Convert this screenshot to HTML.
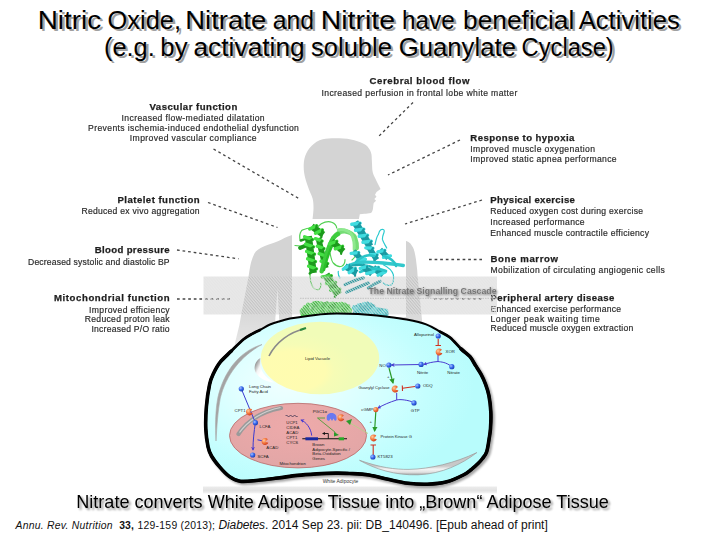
<!DOCTYPE html>
<html><head><meta charset="utf-8">
<style>
html,body{margin:0;padding:0;background:#fff;width:720px;height:540px;overflow:hidden}
svg{display:block}
text{font-family:"Liberation Sans",sans-serif}
.h{font-weight:bold;fill:#1e1e1e;font-size:9.6px;stroke:#1e1e1e;stroke-width:0.25px}
.t{fill:#2a2a2a;font-size:8.6px;stroke:#2a2a2a;stroke-width:0.18px}
.dl{stroke:#444;stroke-width:1.3;stroke-dasharray:2.7 2.9;fill:none}
.s{font-size:4.3px;fill:#1e1e1e}
.bl{fill:url(#ballb)}
.or{fill:url(#ballo)}
</style></head>
<body>
<svg width="720" height="540" viewBox="0 0 720 540">
<defs>
<radialGradient id="cellg" gradientUnits="userSpaceOnUse" cx="300" cy="385" r="175" fx="285" fy="380" gradientTransform="translate(300,385) scale(1,0.62) translate(-300,-385)">
<stop offset="0" stop-color="#f0ffff"/><stop offset="0.3" stop-color="#e2ffff"/><stop offset="0.55" stop-color="#d2ffff"/><stop offset="0.75" stop-color="#c4fefe"/><stop offset="1" stop-color="#b8fcfc"/>
</radialGradient>
<radialGradient id="vacg" cx="0.28" cy="0.66" r="0.5" fx="0.26" fy="0.7">
<stop offset="0" stop-color="#fffcb0"/><stop offset="0.55" stop-color="#fefcb1"/><stop offset="0.7" stop-color="#f6fcb6"/><stop offset="1" stop-color="#f1fcb8"/>
</radialGradient>
<radialGradient id="mitog" cx="0.5" cy="0.35" r="0.65">
<stop offset="0" stop-color="#eeaaaa"/><stop offset="1" stop-color="#e2a6a6"/>
</radialGradient>
<radialGradient id="ballb" cx="0.35" cy="0.35" r="0.7">
<stop offset="0" stop-color="#aac4ff"/><stop offset="0.5" stop-color="#3a6cf0"/><stop offset="1" stop-color="#1a3cb0"/>
</radialGradient>
<radialGradient id="ballo" cx="0.35" cy="0.35" r="0.7">
<stop offset="0" stop-color="#ffd0a0"/><stop offset="0.5" stop-color="#f57a40"/><stop offset="1" stop-color="#d04020"/>
</radialGradient>
<pattern id="hatch" width="2.2" height="2.2" patternUnits="userSpaceOnUse" patternTransform="rotate(-40)">
<rect x="0" width="1.2" height="2.2" fill="#dfdfdf" fill-opacity="0.74"/><rect x="1.2" width="1" height="2.2" fill="#7b7b7b" fill-opacity="0.2"/>
</pattern>
<filter id="cshadow" x="-5%" y="-5%" width="112%" height="115%"><feGaussianBlur in="SourceAlpha" stdDeviation="1.2"/><feOffset dx="1.5" dy="1.5"/><feComponentTransfer><feFuncA type="linear" slope="0.35"/></feComponentTransfer><feMerge><feMergeNode/><feMergeNode in="SourceGraphic"/></feMerge></filter>
<linearGradient id="stripg" x1="0" y1="0" x2="0" y2="1"><stop offset="0" stop-color="#ececec"/><stop offset="0.6" stop-color="#e2e2e2"/><stop offset="1" stop-color="#f6f6f6"/></linearGradient>
<linearGradient id="wcres" gradientUnits="userSpaceOnUse" x1="254" y1="366" x2="262" y2="370"><stop offset="0" stop-color="#909090"/><stop offset="0.6" stop-color="#f4f4f4"/><stop offset="1" stop-color="#fff"/></linearGradient>
<linearGradient id="bcres" gradientUnits="userSpaceOnUse" x1="0" y1="466" x2="0" y2="475"><stop offset="0" stop-color="#c8c8c8"/><stop offset="0.35" stop-color="#f4f4f4"/><stop offset="0.7" stop-color="#e0e0e0"/><stop offset="1" stop-color="#9a9a9a"/></linearGradient>
<linearGradient id="fadeg" x1="0" y1="0" x2="0" y2="1"><stop offset="0" stop-color="#fff" stop-opacity="0.12"/><stop offset="1" stop-color="#fff" stop-opacity="0.5"/></linearGradient>
<filter id="blur1"><feGaussianBlur stdDeviation="0.5"/></filter>
<filter id="blur2"><feGaussianBlur stdDeviation="0.35"/></filter>
<filter id="tshadow" x="-5%" y="-20%" width="110%" height="160%"><feGaussianBlur in="SourceAlpha" stdDeviation="1"/><feOffset dx="1.5" dy="1.5"/><feComponentTransfer><feFuncA type="linear" slope="0.45"/></feComponentTransfer><feMerge><feMergeNode/><feMergeNode in="SourceGraphic"/></feMerge></filter>
<filter id="bshadow" x="-5%" y="-20%" width="110%" height="160%"><feGaussianBlur in="SourceAlpha" stdDeviation="0.8"/><feOffset dx="1.2" dy="1.2"/><feComponentTransfer><feFuncA type="linear" slope="0.5"/></feComponentTransfer><feMerge><feMergeNode/><feMergeNode in="SourceGraphic"/></feMerge></filter>
<marker id="ab" viewBox="0 0 10 10" refX="8" refY="5" markerWidth="4" markerHeight="4" orient="auto"><path d="M0,0 L10,5 L0,10 L3,5 Z" fill="#4a3ad0"/></marker>
<marker id="ag" viewBox="0 0 10 10" refX="8" refY="5" markerWidth="4.5" markerHeight="4.5" orient="auto"><path d="M0,0 L10,5 L0,10 Z" fill="#2a9a2a"/></marker>
</defs>

<!-- Title -->
<g font-size="25.2px">
<text x="40.11" y="30.5" fill="#a0a0a0" textLength="63.52" lengthAdjust="spacingAndGlyphs">Nitric</text>
<text x="109.95" y="30.5" fill="#a0a0a0" textLength="73.49" lengthAdjust="spacingAndGlyphs">Oxide,</text>
<text x="187.64" y="30.5" fill="#a0a0a0" textLength="80.98" lengthAdjust="spacingAndGlyphs">Nitrate</text>
<text x="275.10" y="30.5" fill="#a0a0a0" textLength="41.40" lengthAdjust="spacingAndGlyphs">and</text>
<text x="323.06" y="30.5" fill="#a0a0a0" textLength="74.35" lengthAdjust="spacingAndGlyphs">Nitrite</text>
<text x="404.46" y="30.5" fill="#a0a0a0" textLength="52.77" lengthAdjust="spacingAndGlyphs">have</text>
<text x="465.50" y="30.5" fill="#a0a0a0" textLength="111.16" lengthAdjust="spacingAndGlyphs">beneficial</text>
<text x="581.15" y="30.5" fill="#a0a0a0" textLength="100.97" lengthAdjust="spacingAndGlyphs">Activities</text>
<text x="106.32" y="58.1" fill="#a0a0a0" textLength="50.90" lengthAdjust="spacingAndGlyphs">(e.g.</text>
<text x="162.74" y="58.1" fill="#a0a0a0" textLength="27.21" lengthAdjust="spacingAndGlyphs">by</text>
<text x="195.88" y="58.1" fill="#a0a0a0" textLength="111.32" lengthAdjust="spacingAndGlyphs">activating</text>
<text x="313.39" y="58.1" fill="#a0a0a0" textLength="80.95" lengthAdjust="spacingAndGlyphs">soluble</text>
<text x="401.11" y="58.1" fill="#a0a0a0" textLength="117.24" lengthAdjust="spacingAndGlyphs">Guanylate</text>
<text x="524.00" y="58.1" fill="#a0a0a0" textLength="92.17" lengthAdjust="spacingAndGlyphs">Cyclase)</text>
<text x="37.71" y="28.8" fill="#000" textLength="63.52" lengthAdjust="spacingAndGlyphs">Nitric</text>
<text x="107.55" y="28.8" fill="#000" textLength="73.49" lengthAdjust="spacingAndGlyphs">Oxide,</text>
<text x="185.24" y="28.8" fill="#000" textLength="80.98" lengthAdjust="spacingAndGlyphs">Nitrate</text>
<text x="272.70" y="28.8" fill="#000" textLength="41.40" lengthAdjust="spacingAndGlyphs">and</text>
<text x="320.66" y="28.8" fill="#000" textLength="74.35" lengthAdjust="spacingAndGlyphs">Nitrite</text>
<text x="402.06" y="28.8" fill="#000" textLength="52.77" lengthAdjust="spacingAndGlyphs">have</text>
<text x="463.10" y="28.8" fill="#000" textLength="111.16" lengthAdjust="spacingAndGlyphs">beneficial</text>
<text x="578.75" y="28.8" fill="#000" textLength="100.97" lengthAdjust="spacingAndGlyphs">Activities</text>
<text x="103.92" y="56.4" fill="#000" textLength="50.90" lengthAdjust="spacingAndGlyphs">(e.g.</text>
<text x="160.34" y="56.4" fill="#000" textLength="27.21" lengthAdjust="spacingAndGlyphs">by</text>
<text x="193.48" y="56.4" fill="#000" textLength="111.32" lengthAdjust="spacingAndGlyphs">activating</text>
<text x="310.99" y="56.4" fill="#000" textLength="80.95" lengthAdjust="spacingAndGlyphs">soluble</text>
<text x="398.71" y="56.4" fill="#000" textLength="117.24" lengthAdjust="spacingAndGlyphs">Guanylate</text>
<text x="521.60" y="56.4" fill="#000" textLength="92.17" lengthAdjust="spacingAndGlyphs">Cyclase)</text>
</g>

<!-- silhouette -->
<path fill="#d4d4d4" d="M312.6,219.0 C312.8,217.1 313.5,211.2 313.5,207.8 C313.5,204.4 313.4,201.6 312.6,198.5 C311.8,195.4 310.1,192.7 308.9,189.3 C307.7,185.9 306.1,181.8 305.2,178.1 C304.3,174.4 303.7,170.7 303.7,167.0 C303.7,163.3 303.9,159.5 305.2,155.9 C306.5,152.3 308.8,148.5 311.7,145.7 C314.6,142.9 318.2,140.5 322.8,139.3 C327.4,138.1 334.1,138.2 339.4,138.3 C344.6,138.5 350.0,139.1 354.3,140.2 C358.6,141.3 362.6,142.8 365.4,144.8 C368.2,146.8 369.8,149.4 370.9,152.2 C372.0,155.0 371.6,158.1 371.9,161.5 C372.2,164.9 372.0,169.4 372.8,172.6 C373.6,175.8 375.2,178.2 376.5,180.9 C377.8,183.6 379.9,187.6 380.6,188.9 L376.5,192 L375,194.8 L376.5,196.7 L374.3,198.9 L376.1,200.7 L373.7,203.1 C373.2,205.5 373.2,208 372.8,209.6 C372.3,211.5 371.8,212.6 370.9,213 C368.5,213.6 366.5,213.6 364.4,213.7 L359.8,214.3 L358.9,219 L358.9,224 L406.3,241 C407.9,241.6 409.2,242.4 410.4,243.6 C412.3,246.4 413.8,248.4 414.5,251.7 C415.5,255.8 416.1,259.8 416.5,264 C417.1,268 417.4,272 417.6,276.2 L420,300 L423,330 L423,345 L234,349 L235.5,341 L239.4,325 L241.7,312 L248.6,276.2 C249.1,272.7 249.6,269.2 250.3,265.8 C250.9,263.1 251.5,260.5 252.5,258 C253.4,255.7 254.4,253.4 255.8,251.6 C257.3,250 259,248.7 261,247.7 C263.5,246.4 266.1,245.4 268.8,244.4 C271.8,243.3 274.9,242.4 277.9,241.2 C280.1,240.3 282.2,239 284.4,237.9 C286.7,236.9 289,236 291.5,235.3 L312.6,225 Z"/>
<path d="M277.5,288 L273.5,345 L280.5,345 Z" fill="#fff"/>

<!-- white protein panel -->
<rect x="292" y="219" width="114" height="98" fill="#fff"/>

<!-- protein -->
<g id="prot" stroke-linecap="round" stroke-linejoin="round" fill="none" filter="url(#blur2)">
<path d="M295,245.5 L303.3,246.3 M300,239.7 C299,234 301,230 303.3,229.7 C306,228.5 308,228 310,228 M318.3,226.3 C322,222 328,221 331.7,222.2 C335,223.5 336.5,226 336.7,228 M330,253 C331,258 332,262 333.3,263 C336,266 339.5,267 341.7,266.3 C344,265 345,262 345,259.7 M310,273 C310,278 310.5,282 311.7,284.7 C313,288 316,290 318.3,289.7 C320.5,289 321,286 320.8,283 M356.5,248 C357,253 355,258 352,260" stroke="#52d052" stroke-width="1.2" fill="none" stroke-linecap="round" stroke-linejoin="round"/>
<path d="M300,248 C303,246.5 306.5,245.5 310,244.7" stroke="#1c9a1c" stroke-width="3.8" fill="none" stroke-linecap="round" stroke-linejoin="round"/>
<path d="M300.8,240.5 C303,239.5 306,239 308.3,238.8" stroke="#1c9a1c" stroke-width="2.6" fill="none" stroke-linecap="round" stroke-linejoin="round"/>
<path d="M311.7,226.3 L323.3,234.7" stroke="#1c9a1c" stroke-width="6.4" stroke-linecap="butt"/>
<path d="M309.7,229.0 L316.6,225.7" stroke="#44e044" stroke-width="3.4" stroke-linecap="round"/>
<path d="M316.6,225.7 L315.5,233.2" stroke="#1c9a1c" stroke-width="2.2" stroke-linecap="round"/>
<path d="M315.5,233.2 L322.4,229.9" stroke="#44e044" stroke-width="3.4" stroke-linecap="round"/>
<path d="M322.4,229.9 L321.3,237.4" stroke="#1c9a1c" stroke-width="2.2" stroke-linecap="round"/>
<path d="M308.3,236.3 L313.3,273.0" stroke="#1c9a1c" stroke-width="7.2" stroke-linecap="butt"/>
<path d="M304.6,236.8 L312.5,239.5" stroke="#44e044" stroke-width="3.4" stroke-linecap="round"/>
<path d="M312.5,239.5 L305.6,244.2" stroke="#1c9a1c" stroke-width="2.2" stroke-linecap="round"/>
<path d="M305.6,244.2 L313.5,246.8" stroke="#44e044" stroke-width="3.4" stroke-linecap="round"/>
<path d="M313.5,246.8 L306.6,251.5" stroke="#1c9a1c" stroke-width="2.2" stroke-linecap="round"/>
<path d="M306.6,251.5 L314.5,254.1" stroke="#44e044" stroke-width="3.4" stroke-linecap="round"/>
<path d="M314.5,254.1 L307.6,258.8" stroke="#1c9a1c" stroke-width="2.2" stroke-linecap="round"/>
<path d="M307.6,258.8 L315.5,261.5" stroke="#44e044" stroke-width="3.4" stroke-linecap="round"/>
<path d="M315.5,261.5 L308.6,266.2" stroke="#1c9a1c" stroke-width="2.2" stroke-linecap="round"/>
<path d="M308.6,266.2 L316.5,268.8" stroke="#44e044" stroke-width="3.4" stroke-linecap="round"/>
<path d="M316.5,268.8 L309.6,273.5" stroke="#1c9a1c" stroke-width="2.2" stroke-linecap="round"/>
<path d="M318.3,238.0 L325.8,268.0" stroke="#1c9a1c" stroke-width="5.6" stroke-linecap="butt"/>
<path d="M315.4,238.7 L322.1,241.0" stroke="#44e044" stroke-width="3.4" stroke-linecap="round"/>
<path d="M322.1,241.0 L317.3,246.2" stroke="#1c9a1c" stroke-width="2.2" stroke-linecap="round"/>
<path d="M317.3,246.2 L324.0,248.5" stroke="#44e044" stroke-width="3.4" stroke-linecap="round"/>
<path d="M324.0,248.5 L319.2,253.7" stroke="#1c9a1c" stroke-width="2.2" stroke-linecap="round"/>
<path d="M319.2,253.7 L325.8,256.0" stroke="#44e044" stroke-width="3.4" stroke-linecap="round"/>
<path d="M325.8,256.0 L321.1,261.2" stroke="#1c9a1c" stroke-width="2.2" stroke-linecap="round"/>
<path d="M321.1,261.2 L327.7,263.5" stroke="#44e044" stroke-width="3.4" stroke-linecap="round"/>
<path d="M327.7,263.5 L322.9,268.7" stroke="#1c9a1c" stroke-width="2.2" stroke-linecap="round"/>
<path d="M333.3,238 C337,233 341,231 345,231.3 C350,232 354,235 355,238 C356.5,242 357,245 356.7,248" stroke="#74dc74" stroke-width="4.6" fill="none" stroke-linecap="round" stroke-linejoin="round"/>
<path d="M321.7,271.3 C325,258 328,246 333.3,238 C334.5,236.5 336,235 338,234" stroke="#3ccc3c" stroke-width="4.4" fill="none" stroke-linecap="round" stroke-linejoin="round"/>
<path d="M338.3,229.7 C344,229 349,231 351.7,234.7 C354,239 354.5,244 354.2,249.7" stroke="#8ee88e" stroke-width="3" fill="none" stroke-linecap="round" stroke-linejoin="round"/>
<path d="M324,270 C327,258 330,248 335,241" stroke="#2cbf2c" stroke-width="2.4" fill="none" stroke-linecap="round" stroke-linejoin="round"/>
<path d="M331.7,241.3 L343.3,251.3" stroke="#1c9a1c" stroke-width="6.4" stroke-linecap="butt"/>
<path d="M329.5,243.8 L336.8,241.3" stroke="#44e044" stroke-width="3.4" stroke-linecap="round"/>
<path d="M336.8,241.3 L335.3,248.8" stroke="#1c9a1c" stroke-width="2.2" stroke-linecap="round"/>
<path d="M335.3,248.8 L342.6,246.3" stroke="#44e044" stroke-width="3.4" stroke-linecap="round"/>
<path d="M342.6,246.3 L341.1,253.8" stroke="#1c9a1c" stroke-width="2.2" stroke-linecap="round"/>
<path d="M325.8,274.7 L338.3,294.7" stroke="#22a022" stroke-width="8.0" stroke-linecap="butt"/>
<path d="M322.2,276.9 L331.4,275.8" stroke="#4ed64e" stroke-width="3.4" stroke-linecap="round"/>
<path d="M331.4,275.8 L326.4,283.6" stroke="#22a022" stroke-width="2.2" stroke-linecap="round"/>
<path d="M326.4,283.6 L335.6,282.5" stroke="#4ed64e" stroke-width="3.4" stroke-linecap="round"/>
<path d="M335.6,282.5 L330.6,290.3" stroke="#22a022" stroke-width="2.2" stroke-linecap="round"/>
<path d="M330.6,290.3 L339.8,289.1" stroke="#4ed64e" stroke-width="3.4" stroke-linecap="round"/>
<path d="M339.8,289.1 L334.7,296.9" stroke="#22a022" stroke-width="2.2" stroke-linecap="round"/>
<path d="M375,244.7 C376,240 377,236 378.3,234.7 C379,232 379.5,230.5 380.8,229.7 C382.5,229 384.5,229.5 384.2,231.3 C384,234 382,236 382.5,239.7 C383.5,243 385.5,245.5 386.7,248 M338.3,271.3 C338,274 338.8,276.5 340,278 M383.3,264.7 C388,267 392,270 393.3,274.7 C394,279 393,283 391.7,284.7 C389,286 385.5,285 383.3,283" stroke="#2ccacf" stroke-width="1.2" fill="none" stroke-linecap="round" stroke-linejoin="round"/>
<path d="M355.0,222.2 L370.0,246.3" stroke="#1a9aa2" stroke-width="7.2" stroke-linecap="butt"/>
<path d="M351.8,224.2 L360.1,223.2" stroke="#40dce0" stroke-width="3.4" stroke-linecap="round"/>
<path d="M360.1,223.2 L355.5,230.2" stroke="#1a9aa2" stroke-width="2.2" stroke-linecap="round"/>
<path d="M355.5,230.2 L363.8,229.2" stroke="#40dce0" stroke-width="3.4" stroke-linecap="round"/>
<path d="M363.8,229.2 L359.3,236.2" stroke="#1a9aa2" stroke-width="2.2" stroke-linecap="round"/>
<path d="M359.3,236.2 L367.6,235.3" stroke="#40dce0" stroke-width="3.4" stroke-linecap="round"/>
<path d="M367.6,235.3 L363.0,242.3" stroke="#1a9aa2" stroke-width="2.2" stroke-linecap="round"/>
<path d="M363.0,242.3 L371.3,241.3" stroke="#40dce0" stroke-width="3.4" stroke-linecap="round"/>
<path d="M371.3,241.3 L366.8,248.3" stroke="#1a9aa2" stroke-width="2.2" stroke-linecap="round"/>
<path d="M368.3,246.3 L376.7,259.7" stroke="#1a9aa2" stroke-width="5.6" stroke-linecap="butt"/>
<path d="M365.8,247.9 L372.9,248.1" stroke="#40dce0" stroke-width="3.4" stroke-linecap="round"/>
<path d="M372.9,248.1 L370.0,254.6" stroke="#1a9aa2" stroke-width="2.2" stroke-linecap="round"/>
<path d="M370.0,254.6 L377.1,254.8" stroke="#40dce0" stroke-width="3.4" stroke-linecap="round"/>
<path d="M377.1,254.8 L374.2,261.3" stroke="#1a9aa2" stroke-width="2.2" stroke-linecap="round"/>
<path d="M380.0,249.7 L388.3,258.0" stroke="#1a9aa2" stroke-width="5.6" stroke-linecap="butt"/>
<path d="M377.9,251.8 L384.8,250.4" stroke="#40dce0" stroke-width="3.4" stroke-linecap="round"/>
<path d="M384.8,250.4 L383.5,257.3" stroke="#1a9aa2" stroke-width="2.2" stroke-linecap="round"/>
<path d="M383.5,257.3 L390.4,255.9" stroke="#40dce0" stroke-width="3.4" stroke-linecap="round"/>
<path d="M353.3,251.3 L363.3,261.3" stroke="#1a9aa2" stroke-width="5.6" stroke-linecap="butt"/>
<path d="M351.2,253.4 L358.7,252.6" stroke="#40dce0" stroke-width="3.4" stroke-linecap="round"/>
<path d="M358.7,252.6 L357.9,260.0" stroke="#1a9aa2" stroke-width="2.2" stroke-linecap="round"/>
<path d="M357.9,260.0 L365.4,259.2" stroke="#40dce0" stroke-width="3.4" stroke-linecap="round"/>
<path d="M345,268 C351,264 357,262.5 363.3,262.2 C370,262 377,262.5 383.3,263 C390,263.5 397,264.5 403.3,265.5" stroke="#30c8cc" stroke-width="3.4" fill="none" stroke-linecap="round" stroke-linejoin="round"/>
<path d="M352,265.5 C362,264 372,266 380,271" stroke="#1fa8ae" stroke-width="2.2" fill="none" stroke-linecap="round" stroke-linejoin="round"/>
<path d="M345.0,266.3 L356.7,273.0" stroke="#1a9aa2" stroke-width="6.4" stroke-linecap="butt"/>
<path d="M343.3,269.2 L349.6,265.1" stroke="#40dce0" stroke-width="3.4" stroke-linecap="round"/>
<path d="M349.6,265.1 L349.2,272.6" stroke="#1a9aa2" stroke-width="2.2" stroke-linecap="round"/>
<path d="M349.2,272.6 L355.4,268.4" stroke="#40dce0" stroke-width="3.4" stroke-linecap="round"/>
<path d="M355.4,268.4 L355.0,275.9" stroke="#1a9aa2" stroke-width="2.2" stroke-linecap="round"/>
<path d="M373.3,268.0 L383.3,274.7" stroke="#1a9aa2" stroke-width="6.4" stroke-linecap="butt"/>
<path d="M371.4,270.8 L378.5,267.4" stroke="#40dce0" stroke-width="3.4" stroke-linecap="round"/>
<path d="M378.5,267.4 L378.1,275.3" stroke="#1a9aa2" stroke-width="2.2" stroke-linecap="round"/>
<path d="M378.1,275.3 L385.2,271.9" stroke="#40dce0" stroke-width="3.4" stroke-linecap="round"/>
<path d="M356,262 C362,256 368,254 374,256 M360,272 C368,268 378,268 386,271 M384,256 C390,258 395,262 396,266" stroke="#2cc4c8" stroke-width="2.6" fill="none" stroke-linecap="round" stroke-linejoin="round"/>
<path d="M362.0,266.0 L372.0,274.0" stroke="#1a9aa2" stroke-width="5.6" stroke-linecap="butt"/>
<path d="M360.2,268.3 L367.2,266.4" stroke="#40dce0" stroke-width="3.4" stroke-linecap="round"/>
<path d="M367.2,266.4 L366.8,273.6" stroke="#1a9aa2" stroke-width="2.2" stroke-linecap="round"/>
<path d="M366.8,273.6 L373.8,271.7" stroke="#40dce0" stroke-width="3.4" stroke-linecap="round"/>
<path d="M345,284.7 C351,282 357,279.5 363.3,278 M346.7,292.2 C354,289 361,286 368.3,283 M368.3,288 C372,285 376,283 380,281.3" stroke="#1e9ca4" stroke-width="3" fill="none" stroke-linecap="round" stroke-linejoin="round"/>

</g>

<!-- dotted lines -->
<path class="dl" d="M413,102.5 L378,137"/>
<path class="dl" d="M460,140 L388,175"/>
<path class="dl" d="M482,200 L405,224"/>
<path class="dl" d="M429,259.5 L482,259.5"/>
<path class="dl" d="M434,298.8 L482.5,298.8"/>
<path class="dl" d="M213.5,149 L300.5,199.5"/>
<path class="dl" d="M208,202.5 L277.5,227.5"/>
<path class="dl" d="M177,250 L238.5,258.8"/>
<path class="dl" d="M177,299 L230,299"/>

<!-- Text blocks -->
<g filter="url(#blur2)">
<g text-anchor="middle">
<text class="h" x="419.5" y="84" textLength="99.8">Cerebral blood flow</text>
<text class="t" x="419.4" y="96" textLength="195.8">Increased perfusion in frontal lobe white matter</text>
<text class="h" x="193.4" y="110" textLength="87.8">Vascular function</text>
<text class="t" x="193.1" y="121" textLength="143.1">Increased flow-mediated dilatation</text>
<text class="t" x="193.5" y="131" textLength="210.8">Prevents ischemia-induced endothelial dysfunction</text>
<text class="t" x="193.2" y="141" textLength="126.8">Improved vascular compliance</text>
</g>
<g text-anchor="end">
<text class="h" x="199.6" y="202.7" textLength="82.2">Platelet function</text>
<text class="t" x="199.6" y="214" textLength="118.2">Reduced ex vivo aggregation</text>
<text class="h" x="169.6" y="253.3" textLength="74.9">Blood pressure</text>
<text class="t" x="169.6" y="265" textLength="141.6">Decreased systolic and diastolic BP</text>
<text class="h" x="169.6" y="301" textLength="115.6">Mitochondrial function</text>
<text class="t" x="169.6" y="312.7" textLength="80.6">Improved efficiency</text>
<text class="t" x="169.6" y="322.3" textLength="84.9">Reduced proton leak</text>
<text class="t" x="169.6" y="331.7" textLength="78.2">Increased P/O ratio</text>
</g>
<g>
<text class="h" x="470.3" y="141.3" textLength="104.0">Response to hypoxia</text>
<text class="t" x="470.3" y="152.2" textLength="124.7">Improved muscle oxygenation</text>
<text class="t" x="470.3" y="162" textLength="146.3">Improved static apnea performance</text>
<text class="h" x="490.3" y="202.5" textLength="84.6">Physical exercise</text>
<text class="t" x="490.3" y="214.2" textLength="152.7">Reduced oxygen cost during exercise</text>
<text class="t" x="490.3" y="224.7" textLength="94.3">Increased performance</text>
<text class="t" x="490.3" y="235.6" textLength="158.7">Enhanced muscle contractile efficiency</text>
<text class="h" x="490.5" y="261.7" textLength="67.5">Bone marrow</text>
<text class="t" x="490.5" y="273" textLength="174.3">Mobilization of circulating angiogenic cells</text>
<text class="h" x="490.5" y="300.6" textLength="123.8">Peripheral artery disease</text>
<text class="t" x="490.5" y="311.5" textLength="130.5">Enhanced exercise performance</text>
<text class="t" x="490.5" y="321.6" textLength="109.3">Longer peak waiting time</text>
<text class="t" x="490.5" y="331.3" textLength="142.9">Reduced muscle oxygen extraction</text>
</g>
</g>

<!-- protein shadows under band -->
<g filter="url(#blur2)">
<circle cx="302.5" cy="311.2" r="2.9" fill="#44dd44"/>
<circle cx="303.3" cy="314.0" r="2.8" fill="#33cc33"/>
<circle cx="303.7" cy="317.0" r="2.6" fill="#44dd44"/>
<circle cx="305.1" cy="307.5" r="2.5" fill="#44dd44"/>
<circle cx="303.7" cy="310.0" r="2.6" fill="#33cc33"/>
<circle cx="304.2" cy="313.0" r="2.4" fill="#2ab82a"/>
<circle cx="306.0" cy="316.0" r="2.2" fill="#33cc33"/>
<circle cx="308.1" cy="304.6" r="2.2" fill="#44dd44"/>
<circle cx="307.2" cy="307.0" r="2.2" fill="#33cc33"/>
<circle cx="307.5" cy="310.0" r="2.9" fill="#33cc33"/>
<circle cx="308.6" cy="313.0" r="2.5" fill="#33cc33"/>
<circle cx="309.5" cy="316.0" r="2.2" fill="#33cc33"/>
<circle cx="311.4" cy="305.2" r="2.4" fill="#5ae05a"/>
<circle cx="312.8" cy="308.0" r="2.4" fill="#5ae05a"/>
<circle cx="310.9" cy="311.0" r="2.1" fill="#44dd44"/>
<circle cx="312.1" cy="314.0" r="2.6" fill="#44dd44"/>
<circle cx="312.4" cy="317.0" r="2.3" fill="#2ab82a"/>
<circle cx="314.5" cy="303.6" r="2.6" fill="#33cc33"/>
<circle cx="315.9" cy="306.0" r="2.1" fill="#44dd44"/>
<circle cx="314.1" cy="309.0" r="2.9" fill="#2ab82a"/>
<circle cx="315.3" cy="312.0" r="2.0" fill="#5ae05a"/>
<circle cx="315.5" cy="315.0" r="2.4" fill="#2ab82a"/>
<circle cx="316.7" cy="303.9" r="3.1" fill="#33cc33"/>
<circle cx="316.0" cy="306.0" r="2.1" fill="#2ab82a"/>
<circle cx="316.3" cy="309.0" r="2.3" fill="#5ae05a"/>
<circle cx="315.6" cy="312.0" r="2.8" fill="#5ae05a"/>
<circle cx="315.3" cy="315.0" r="2.9" fill="#44dd44"/>
<circle cx="319.2" cy="303.6" r="2.4" fill="#33cc33"/>
<circle cx="320.5" cy="306.0" r="2.3" fill="#44dd44"/>
<circle cx="318.6" cy="309.0" r="2.3" fill="#33cc33"/>
<circle cx="319.6" cy="312.0" r="2.8" fill="#5ae05a"/>
<circle cx="318.2" cy="315.0" r="3.0" fill="#44dd44"/>
<circle cx="321.5" cy="304.5" r="3.1" fill="#44dd44"/>
<circle cx="321.8" cy="307.0" r="2.2" fill="#5ae05a"/>
<circle cx="321.3" cy="310.0" r="2.5" fill="#44dd44"/>
<circle cx="321.9" cy="313.0" r="3.0" fill="#2ab82a"/>
<circle cx="320.6" cy="316.0" r="2.3" fill="#33cc33"/>
<circle cx="324.4" cy="304.0" r="2.1" fill="#2ab82a"/>
<circle cx="323.1" cy="307.0" r="2.4" fill="#2ab82a"/>
<circle cx="324.3" cy="310.0" r="2.3" fill="#33cc33"/>
<circle cx="324.3" cy="313.0" r="3.0" fill="#2ab82a"/>
<circle cx="323.9" cy="316.0" r="2.7" fill="#5ae05a"/>
<circle cx="327.0" cy="303.5" r="2.2" fill="#2ab82a"/>
<circle cx="327.1" cy="306.0" r="2.8" fill="#33cc33"/>
<circle cx="327.0" cy="309.0" r="2.6" fill="#5ae05a"/>
<circle cx="327.0" cy="312.0" r="2.2" fill="#5ae05a"/>
<circle cx="327.9" cy="315.0" r="2.1" fill="#5ae05a"/>
<circle cx="330.0" cy="304.8" r="2.9" fill="#5ae05a"/>
<circle cx="330.5" cy="307.0" r="2.6" fill="#2ab82a"/>
<circle cx="331.5" cy="310.0" r="2.3" fill="#5ae05a"/>
<circle cx="329.5" cy="313.0" r="3.0" fill="#33cc33"/>
<circle cx="328.6" cy="316.0" r="2.6" fill="#5ae05a"/>
<circle cx="332.6" cy="303.7" r="2.3" fill="#5ae05a"/>
<circle cx="333.0" cy="306.0" r="2.3" fill="#2ab82a"/>
<circle cx="333.6" cy="309.0" r="2.4" fill="#2ab82a"/>
<circle cx="334.0" cy="312.0" r="3.0" fill="#33cc33"/>
<circle cx="331.6" cy="315.0" r="2.5" fill="#5ae05a"/>
<circle cx="335.9" cy="304.7" r="2.8" fill="#2ab82a"/>
<circle cx="336.8" cy="307.0" r="2.2" fill="#2ab82a"/>
<circle cx="336.1" cy="310.0" r="2.3" fill="#5ae05a"/>
<circle cx="334.5" cy="313.0" r="2.7" fill="#33cc33"/>
<circle cx="336.3" cy="316.0" r="2.6" fill="#33cc33"/>
<circle cx="338.4" cy="305.1" r="2.8" fill="#44dd44"/>
<circle cx="339.8" cy="308.0" r="3.0" fill="#33cc33"/>
<circle cx="337.3" cy="311.0" r="2.1" fill="#5ae05a"/>
<circle cx="338.4" cy="314.0" r="3.0" fill="#44dd44"/>
<circle cx="338.0" cy="317.0" r="2.4" fill="#44dd44"/>
<circle cx="341.3" cy="304.9" r="3.1" fill="#44dd44"/>
<circle cx="342.7" cy="307.0" r="2.4" fill="#2ab82a"/>
<circle cx="341.9" cy="310.0" r="2.9" fill="#5ae05a"/>
<circle cx="341.5" cy="313.0" r="3.0" fill="#5ae05a"/>
<circle cx="341.4" cy="316.0" r="2.1" fill="#5ae05a"/>
<circle cx="344.7" cy="304.9" r="2.4" fill="#33cc33"/>
<circle cx="345.6" cy="307.0" r="2.4" fill="#5ae05a"/>
<circle cx="343.6" cy="310.0" r="2.5" fill="#2ab82a"/>
<circle cx="346.0" cy="313.0" r="2.6" fill="#33cc33"/>
<circle cx="344.2" cy="316.0" r="2.6" fill="#44dd44"/>
<circle cx="347.3" cy="307.2" r="3.1" fill="#33cc33"/>
<circle cx="348.4" cy="310.0" r="2.3" fill="#2ab82a"/>
<circle cx="348.7" cy="313.0" r="2.4" fill="#2ab82a"/>
<circle cx="348.7" cy="316.0" r="2.3" fill="#2ab82a"/>
<circle cx="350.0" cy="309.9" r="2.2" fill="#5ae05a"/>
<circle cx="349.4" cy="312.0" r="2.7" fill="#5ae05a"/>
<circle cx="349.4" cy="315.0" r="2.4" fill="#5ae05a"/>
<circle cx="354.5" cy="307.6" r="2.6" fill="#44d8dc"/>
<circle cx="355.9" cy="310.0" r="2.7" fill="#33c8cc"/>
<circle cx="355.3" cy="313.0" r="2.3" fill="#2ab4ba"/>
<circle cx="354.6" cy="316.0" r="2.0" fill="#5ae0e4"/>
<circle cx="357.0" cy="306.5" r="2.0" fill="#2ab4ba"/>
<circle cx="356.0" cy="309.0" r="2.3" fill="#5ae0e4"/>
<circle cx="357.3" cy="312.0" r="2.3" fill="#2ab4ba"/>
<circle cx="358.1" cy="315.0" r="2.5" fill="#44d8dc"/>
<circle cx="359.2" cy="305.2" r="2.3" fill="#5ae0e4"/>
<circle cx="359.9" cy="308.0" r="2.6" fill="#44d8dc"/>
<circle cx="358.8" cy="311.0" r="2.5" fill="#33c8cc"/>
<circle cx="358.5" cy="314.0" r="2.0" fill="#2ab4ba"/>
<circle cx="358.0" cy="317.0" r="2.7" fill="#33c8cc"/>
<circle cx="361.4" cy="305.4" r="2.5" fill="#2ab4ba"/>
<circle cx="362.5" cy="308.0" r="2.9" fill="#2ab4ba"/>
<circle cx="362.5" cy="311.0" r="2.4" fill="#33c8cc"/>
<circle cx="361.3" cy="314.0" r="2.9" fill="#44d8dc"/>
<circle cx="359.9" cy="317.0" r="2.3" fill="#2ab4ba"/>
<circle cx="364.3" cy="304.3" r="2.6" fill="#5ae0e4"/>
<circle cx="364.3" cy="307.0" r="2.1" fill="#2ab4ba"/>
<circle cx="364.4" cy="310.0" r="3.0" fill="#2ab4ba"/>
<circle cx="365.3" cy="313.0" r="2.6" fill="#44d8dc"/>
<circle cx="363.6" cy="316.0" r="2.7" fill="#44d8dc"/>
<circle cx="367.5" cy="303.6" r="2.0" fill="#2ab4ba"/>
<circle cx="369.0" cy="306.0" r="3.0" fill="#2ab4ba"/>
<circle cx="368.5" cy="309.0" r="2.0" fill="#33c8cc"/>
<circle cx="368.5" cy="312.0" r="2.6" fill="#44d8dc"/>
<circle cx="366.4" cy="315.0" r="2.7" fill="#5ae0e4"/>
<circle cx="370.5" cy="304.7" r="2.2" fill="#33c8cc"/>
<circle cx="369.5" cy="307.0" r="2.4" fill="#33c8cc"/>
<circle cx="369.3" cy="310.0" r="2.0" fill="#2ab4ba"/>
<circle cx="369.9" cy="313.0" r="2.7" fill="#44d8dc"/>
<circle cx="371.7" cy="316.0" r="2.7" fill="#33c8cc"/>
<circle cx="372.7" cy="306.9" r="2.8" fill="#2ab4ba"/>
<circle cx="374.1" cy="309.0" r="2.5" fill="#5ae0e4"/>
<circle cx="371.7" cy="312.0" r="2.9" fill="#5ae0e4"/>
<circle cx="373.1" cy="315.0" r="2.2" fill="#5ae0e4"/>
<circle cx="376.0" cy="309.5" r="2.7" fill="#5ae0e4"/>
<circle cx="375.2" cy="312.0" r="2.1" fill="#5ae0e4"/>
<circle cx="374.9" cy="315.0" r="2.5" fill="#33c8cc"/>
<circle cx="379.3" cy="310.1" r="2.5" fill="#33c8cc"/>
<circle cx="379.7" cy="313.0" r="2.7" fill="#44d8dc"/>
<circle cx="377.9" cy="316.0" r="2.6" fill="#44d8dc"/>
<circle cx="382.1" cy="310.5" r="2.5" fill="#2ab4ba"/>
<circle cx="381.5" cy="313.0" r="2.5" fill="#44d8dc"/>
<circle cx="381.7" cy="316.0" r="2.5" fill="#33c8cc"/>
<circle cx="385.4" cy="311.4" r="3.0" fill="#44d8dc"/>
<circle cx="386.6" cy="314.0" r="2.1" fill="#2ab4ba"/>
<circle cx="384.3" cy="317.0" r="2.8" fill="#2ab4ba"/>
</g>
<!-- band -->
<rect x="203.5" y="276.5" width="293.5" height="38" fill="url(#hatch)"/>
<line x1="300" y1="298.3" x2="497" y2="298.3" stroke="#aaa" stroke-width="0.6" stroke-dasharray="1.5 1"/>
<text x="368.5" y="294" font-size="9.5px" font-weight="bold" fill="#777" textLength="128" lengthAdjust="spacingAndGlyphs" filter="url(#bshadow)">The Nitrate Signalling Cascade</text>

<rect x="228" y="314" width="200" height="40" fill="url(#fadeg)"/>
<!-- bottom image strip -->
<rect x="203" y="486.5" width="294" height="7" fill="url(#stripg)" filter="url(#blur1)"/>

<!-- cell -->
<g filter="url(#cshadow)">
<path fill="url(#cellg)" stroke="#000" stroke-width="2" d="M290.0,318.6 C294.9,317.7 302.9,316.5 309.4,315.7 C315.9,314.9 322.4,314.1 328.9,313.8 C335.4,313.4 341.8,313.6 348.3,313.8 C354.8,313.9 361.3,314.2 367.8,314.7 C374.3,315.2 380.7,315.9 387.2,316.7 C393.7,317.5 400.2,318.3 406.7,319.6 C413.2,320.9 420.6,322.4 426.1,324.4 C431.7,326.4 436.0,329.5 440.0,331.7 C444.0,333.9 446.5,334.6 450.0,337.5 C453.5,340.4 457.8,345.7 461.1,348.9 C464.4,352.1 467.6,353.9 470.0,356.7 C472.4,359.5 473.8,362.7 475.6,365.6 C477.5,368.6 479.4,371.3 481.1,374.4 C482.8,377.5 484.3,380.9 485.6,384.4 C486.9,387.9 488.0,391.1 488.9,395.6 C489.8,400.2 490.5,406.2 490.8,411.7 C491.1,417.1 490.8,423.9 490.5,428.3 C490.2,432.7 489.8,434.4 489.2,438.3 C488.6,442.2 487.8,448.3 486.7,451.7 C485.6,455.1 483.9,456.6 482.5,458.5 C481.1,460.4 480.1,461.5 478.3,463.3 C476.5,465.1 474.2,467.2 471.7,469.2 C469.2,471.1 467.5,472.9 463.3,475.0 C459.1,477.1 452.7,480.3 446.7,481.8 C440.7,483.3 433.7,484.0 427.2,484.2 C420.7,484.4 414.3,484.0 407.8,483.2 C401.3,482.4 394.8,480.7 388.3,479.3 C381.8,477.9 375.4,476.0 368.9,475.0 C362.4,474.0 354.9,473.8 349.4,473.5 C343.9,473.2 341.6,473.0 336.1,473.1 C330.7,473.2 323.2,473.5 316.7,473.9 C310.2,474.3 303.7,474.7 297.2,475.4 C290.7,476.1 284.3,477.2 277.8,478.0 C271.3,478.8 264.6,479.8 258.3,480.3 C252.0,480.8 244.8,481.9 240.0,481.2 C235.2,480.5 232.6,478.8 229.2,476.4 C225.8,474.0 222.3,470.1 219.4,466.7 C216.5,463.3 213.4,459.3 211.5,456.0 C209.6,452.7 208.9,451.2 208.0,446.7 C207.1,442.2 206.1,435.6 205.8,428.9 C205.5,422.2 205.8,414.1 206.4,406.7 C207.0,399.3 208.4,390.0 209.6,384.4 C210.8,378.8 211.8,377.0 213.6,373.3 C215.4,369.6 217.2,365.9 220.2,362.2 C223.1,358.5 227.5,354.9 231.3,351.1 C235.2,347.3 239.9,342.3 243.3,339.5 C246.7,336.7 248.9,335.7 251.7,334.1 C254.5,332.5 256.9,331.5 260.0,329.9 C263.1,328.3 266.7,325.9 270.0,324.5 C273.3,323.1 276.7,322.2 280.0,321.2 C283.3,320.2 285.1,319.5 290.0,318.6 Z"/>
<path fill="none" stroke="#000" stroke-width="2.8" stroke-linecap="round" d="M440,331.7 C444.0,333.9 446.5,334.6 450.0,337.5 C453.5,340.4 457.8,345.7 461.1,348.9 C464.4,352.1 467.6,353.9 470.0,356.7 C472.4,359.5 473.8,362.7 475.6,365.6 C477.5,368.6 479.4,371.3 481.1,374.4 C482.8,377.5 484.3,380.9 485.6,384.4 C486.9,387.9 488.0,391.1 488.9,395.6 C489.8,400.2 490.5,406.2 490.8,411.7 C491.1,417.1 490.8,423.9 490.5,428.3 C490.2,432.7 489.8,434.4 489.2,438.3 C488.6,442.2 487.8,448.3 486.7,451.7 C485.6,455.1 483.9,456.6 482.5,458.5 C481.1,460.4 480.1,461.5 478.3,463.3 C476.5,465.1 474.2,467.2 471.7,469.2 C469.2,471.1 467.5,472.9 463.3,475.0 C459.1,477.1 452.7,480.3 446.7,481.8 C440.7,483.3 433.7,484.0 427.2,484.2 C420.7,484.4 414.3,484.0 407.8,483.2 C401.3,482.4 394.8,480.7 388.3,479.3 C381.8,477.9 375.4,476.0 368.9,475.0 C362.4,474.0 354.9,473.8 349.4,473.5 C343.9,473.2 341.6,473.0 336.1,473.1 C330.7,473.2 323.2,473.5 316.7,473.9 C310.2,474.3 303.7,474.7 297.2,475.4 C290.7,476.1 284.3,477.2 277.8,478.0 C271.3,478.8 264.6,479.8 258.3,480.3 C252.0,480.8 244.8,481.9 240.0,481.2 C235.2,480.5 232.6,478.8 229.2,476.4 C225.8,474.0 222.3,470.1 219.4,466.7 C216.5,463.3 213.4,459.3 211.5,456.0 C209.6,452.7 208.9,451.2 208.0,446.7 C207.1,442.2 206.1,435.6 205.8,428.9 C205.5,422.2 205.8,414.1 206.4,406.7 C207.0,399.3 208.4,390.0 209.6,384.4 C210.8,378.8 211.8,377.0 213.6,373.3 C215.4,369.6 217.2,365.9 220.2,362.2 C223.1,358.5 227.5,354.9 231.3,351.1 C235.2,347.3 239.9,342.3 243.3,339.5 C246.7,336.7 248.9,335.7 251.7,334.1 C254.5,332.5 256.9,331.5 260.0,329.9"/>
<path fill="none" stroke="#000" stroke-width="3.6" stroke-linecap="round" d="M461.1,348.9 C464.4,352.1 467.6,353.9 470.0,356.7 C472.4,359.5 473.8,362.7 475.6,365.6 C477.5,368.6 479.4,371.3 481.1,374.4 C482.8,377.5 484.3,380.9 485.6,384.4 C486.9,387.9 488.0,391.1 488.9,395.6 C489.8,400.2 490.5,406.2 490.8,411.7 C491.1,417.1 490.8,423.9 490.5,428.3 C490.2,432.7 489.8,434.4 489.2,438.3 C488.6,442.2 487.8,448.3 486.7,451.7 C485.6,455.1 483.9,456.6 482.5,458.5 C481.1,460.4 480.1,461.5 478.3,463.3 C476.5,465.1 474.2,467.2 471.7,469.2 C469.2,471.1 467.5,472.9 463.3,475.0 C459.1,477.1 452.7,480.3 446.7,481.8 C440.7,483.3 433.7,484.0 427.2,484.2 C420.7,484.4 414.3,484.0 407.8,483.2 C401.3,482.4 394.8,480.7 388.3,479.3 C381.8,477.9 375.4,476.0 368.9,475.0 C362.4,474.0 354.9,473.8 349.4,473.5 C343.9,473.2 341.6,473.0 336.1,473.1 C330.7,473.2 323.2,473.5 316.7,473.9 C310.2,474.3 303.7,474.7 297.2,475.4 C290.7,476.1 284.3,477.2 277.8,478.0 C271.3,478.8 264.6,479.8 258.3,480.3 C252.0,480.8 244.8,481.9 240.0,481.2 C235.2,480.5 232.6,478.8 229.2,476.4 C225.8,474.0 222.3,470.1 219.4,466.7 C216.5,463.3 213.4,459.3 211.5,456.0 C209.6,452.7 208.9,451.2 208.0,446.7 C207.1,442.2 206.1,435.6 205.8,428.9 C205.5,422.2 205.8,414.1 206.4,406.7 C207.0,399.3 208.4,390.0 209.6,384.4 C210.8,378.8 211.8,377.0 213.6,373.3 C215.4,369.6 217.2,365.9 220.2,362.2 C223.1,358.5 227.5,354.9 231.3,351.1"/>
</g>
<text x="322.7" y="483.3" font-size="4.6px" fill="#333" textLength="35.6" lengthAdjust="spacingAndGlyphs">White Adipocyte</text>

<!-- grey membrane crescents -->
<path d="M262,344.5 C240,351 224,371 218,397 C215.2,411 215.2,428 216,441 C216.8,428 217.6,412 220.3,398 C226,375 241,356 262,344.5 Z" fill="#a4a4a4" stroke="#a8a8a8" stroke-width="0.6"/>
<path d="M359.5,460.3 C380,467.5 395,469.6 409,469.4 C430,469 455,463 476.8,452.6 C462,464 442,474 418,474.8 C395,475.5 375,469 359.5,460.3 Z" fill="url(#bcres)" stroke="#9a9a9a" stroke-width="0.7"/>
<path d="M260.4,357.9 C255,361 253,368 256,373 C259,378 266,382 274.2,382.5 C268,379 262.5,374 261,368 C260.2,364.5 260.2,361 260.4,357.9 Z" fill="url(#wcres)" filter="url(#blur2)"/>

<!-- vacuole -->
<ellipse cx="320" cy="358" rx="59.2" ry="36.3" fill="url(#vacg)"/>
<path d="M269,356 C276,342 290,332 304,329" stroke="#8a8a8a" stroke-width="1.6" fill="none"/>
<path d="M300,330 L306,328" stroke="#2a8a3a" stroke-width="2.2"/>
<text x="305" y="359.6" class="s" textLength="25" lengthAdjust="spacingAndGlyphs">Lipid Vacuole</text>

<!-- mitochondrion -->
<ellipse cx="298" cy="435.6" rx="68.5" ry="32.3" fill="url(#mitog)" stroke="#b86868" stroke-width="0.8"/>
<path d="M238.5,434 C247,421 262,411.5 281,408" stroke="#9a9a9a" stroke-width="4.2" fill="none" stroke-linecap="round"/>
<path d="M239.5,432.5 C248,420.5 263,411 280.5,407.5" stroke="#d0d0d0" stroke-width="1.2" fill="none"/>
<text x="279.4" y="464.8" class="s" textLength="26.4" lengthAdjust="spacingAndGlyphs">Mitochondrion</text>

<!-- pathway lines -->
<g fill="none" stroke-width="1">
<path d="M241.3,388.8 L255.4,422.7" stroke="#3a3ad0"/>
<path d="M255.4,422.7 C254,432 253,440 253,450" stroke="#3a3ad0" marker-end="url(#ab)"/>
<path d="M264.8,441.3 L257.5,439.8" stroke="#3a3ad0"/>
<path d="M421,364.5 L391.5,365" stroke="#4a3ad0" marker-end="url(#ab)"/>
<path d="M451.8,366.7 C446,362 441,362 438,361.5 C432,362 428,363 424,364.5" stroke="#4a3ad0" marker-end="url(#ab)"/>
<path d="M438,355 L438,361.5" stroke="#4a3ad0"/>
<path d="M389,368 L393,383" stroke="#2a9a2a" stroke-width="1.2" marker-end="url(#ag)"/>
<path d="M414,402.5 C408,400 400,399 396.7,400 C390,402 383,405 378,408" stroke="#4a3ad0" marker-end="url(#ab)"/>
<path d="M396.7,393 L396.7,400" stroke="#4a3ad0"/>
<path d="M375.8,412 L374.6,431" stroke="#2a9a2a" stroke-width="1.2" marker-end="url(#ag)"/>
<path d="M368,433.5 L350,423" stroke="#b8d08a" stroke-width="0.9"/>
<path d="M311.7,435.6 C311,428 306,422 301,420" stroke="#4a3ad0" marker-end="url(#ab)"/>
<path d="M325,418 L317.5,418 L335.5,432.5" stroke="#3a9a2a" stroke-width="0.8"/>
</g>
<!-- inhibitions -->
<g stroke="#d03020" stroke-width="1.1" fill="none">
<path d="M438.2,339 L438.2,345.5 M435.5,345.5 L441,345.5"/>
<path d="M415,386.5 L402.5,388.2 M402.3,385.5 L402.5,391"/>
<path d="M373.2,456 L373.2,445 M370.5,445 L376,445"/>
</g>
<!-- green arrowheads -->
<path d="M346,421 L352,419 L350,425 Z" fill="#2a9a2a"/>
<path d="M334,432 L339,435 L334,436.5 Z" fill="#2a9a2a"/>
<!-- DNA -->
<path d="M302.3,438.8 L347,438.8" stroke="#111" stroke-width="1.1"/>
<rect x="305.4" y="437.3" width="12.6" height="3" fill="#1a2aa0"/>
<rect x="338.7" y="437.3" width="5.3" height="3" fill="#2aaa2a"/>
<path d="M328.3,438.8 L328.3,433.5 L324,433.5" stroke="#111" stroke-width="0.9" fill="none"/>
<path d="M322,433.5 L325,432 L325,435 Z" fill="#111"/>
<path d="M285.6,416 q1,-2 2,0 q1,2 2,0 q1,-2 2,0 q1,2 2,0 q1,-2 2,0 q1,2 2,0" stroke="#224" stroke-width="0.7" fill="none"/>

<!-- balls -->
<circle class="bl" cx="241.3" cy="388.8" r="2.6"/>
<circle class="bl" cx="255.4" cy="422.7" r="2.6"/>
<circle class="bl" cx="252.7" cy="455" r="2.6"/>
<circle class="bl" cx="438.2" cy="336" r="2.6"/>
<circle class="bl" cx="388.9" cy="365.1" r="2.6"/>
<circle class="bl" cx="421.1" cy="364.4" r="2.6"/>
<circle class="bl" cx="451.8" cy="366.7" r="2.6"/>
<circle class="bl" cx="417.8" cy="386" r="2.6"/>
<circle class="bl" cx="414" cy="402.9" r="2.6"/>
<circle class="bl" cx="372.9" cy="457" r="2.6"/>
<circle class="or" cx="375.8" cy="409.6" r="2.6"/>
<!-- orange pacman enzymes -->
<g class="or">
<path d="M249.2,411.7 m3,-2 a3.5,3.5 0 1 0 0.5,3.5 l-3,-1 Z" fill="url(#ballo)"/>
<path d="M264.8,441.3 m3,-2 a3.5,3.5 0 1 0 0.5,3.5 l-3,-1 Z" fill="url(#ballo)"/>
<path d="M438.9,351.8 m3,-2 a3.5,3.5 0 1 0 0.5,3.5 l-3,-1 Z" fill="url(#ballo)"/>
<path d="M394.9,388.9 m3,-2 a3.5,3.5 0 1 0 0.5,3.5 l-3,-1 Z" fill="url(#ballo)"/>
<path d="M373.3,437.7 m3,-2 a3.5,3.5 0 1 0 0.5,3.5 l-3,-1 Z" fill="url(#ballo)"/>
<path d="M340.8,417.5 m3,-2 a3.5,3.5 0 1 0 0.5,3.5 l-3,-1 Z" fill="url(#ballo)"/>
</g>
<path d="M327,420 C326,415 328,413 331.5,413 C335,413 337,415 336.5,420 L335,421 L333.5,418.5 L332,421 L330.5,418.5 L329,421 Z" fill="#6a78f0"/>

<!-- small labels -->
<g class="s">
<text x="249" y="388">Long Chain</text>
<text x="249" y="392.7">Fatty Acid</text>
<text x="234.6" y="411.7">CPT1</text>
<text x="259.6" y="427.9">LCFA</text>
<text x="266.3" y="448.8">ACAD</text>
<text x="257.5" y="457.9">SCFA</text>
<text x="286.3" y="424.2">UCP1</text>
<text x="286.3" y="429">CIDEA</text>
<text x="286.3" y="434">ACAD</text>
<text x="286.3" y="438.8">CPT1</text>
<text x="286.3" y="443.8">CYCS</text>
<text x="312.3" y="446">Brown</text>
<text x="312.3" y="450.6">Adipocyte-Specific /</text>
<text x="312.3" y="455.4">Beta-Oxidation</text>
<text x="312.3" y="460.2">Genes</text>
<text x="312.7" y="412.7">PGC1α</text>
<text x="414" y="335.5">Allopurinol</text>
<text x="445.6" y="352.7">XOR</text>
<text x="379.3" y="367.3">NO</text>
<text x="417" y="374">Nitrite</text>
<text x="447.3" y="374">Nitrate</text>
<text x="387" y="377.5">+</text>
<text x="358.4" y="389" textLength="31" lengthAdjust="spacingAndGlyphs">Guanylyl Cyclase</text>
<text x="422.9" y="387.3">ODQ</text>
<text x="410.8" y="411.7">GTP</text>
<text x="361.3" y="410.6">cGMP</text>
<text x="369.5" y="422.5">+</text>
<text x="380.6" y="438.3" textLength="31.3" lengthAdjust="spacingAndGlyphs">Protein Kinase G</text>
<text x="377.5" y="458.1">KT5823</text>
</g>

<!-- captions -->
<text x="76.3" y="507.9" font-size="18.4px" fill="#000" filter="url(#tshadow)" textLength="532.5" lengthAdjust="spacingAndGlyphs">Nitrate converts White Adipose Tissue into „Brown“ Adipose Tissue</text>
<g font-size="10.4px" fill="#111">
<text x="15.5" y="528.7" font-style="italic" textLength="97">Annu. Rev. Nutrition</text>
<text x="119.3" y="528.7" font-weight="bold" textLength="14.5">33,</text>
<text x="137.5" y="528.7" textLength="77.5">129-159 (2013);</text>
<text x="218.5" y="528.7" font-style="italic" font-size="12px" textLength="46.5">Diabetes</text>
<text x="265" y="528.7" font-size="12px" textLength="282.8">. 2014 Sep 23. pii: DB_140496. [Epub ahead of print]</text>
</g>
</svg>
</body></html>
